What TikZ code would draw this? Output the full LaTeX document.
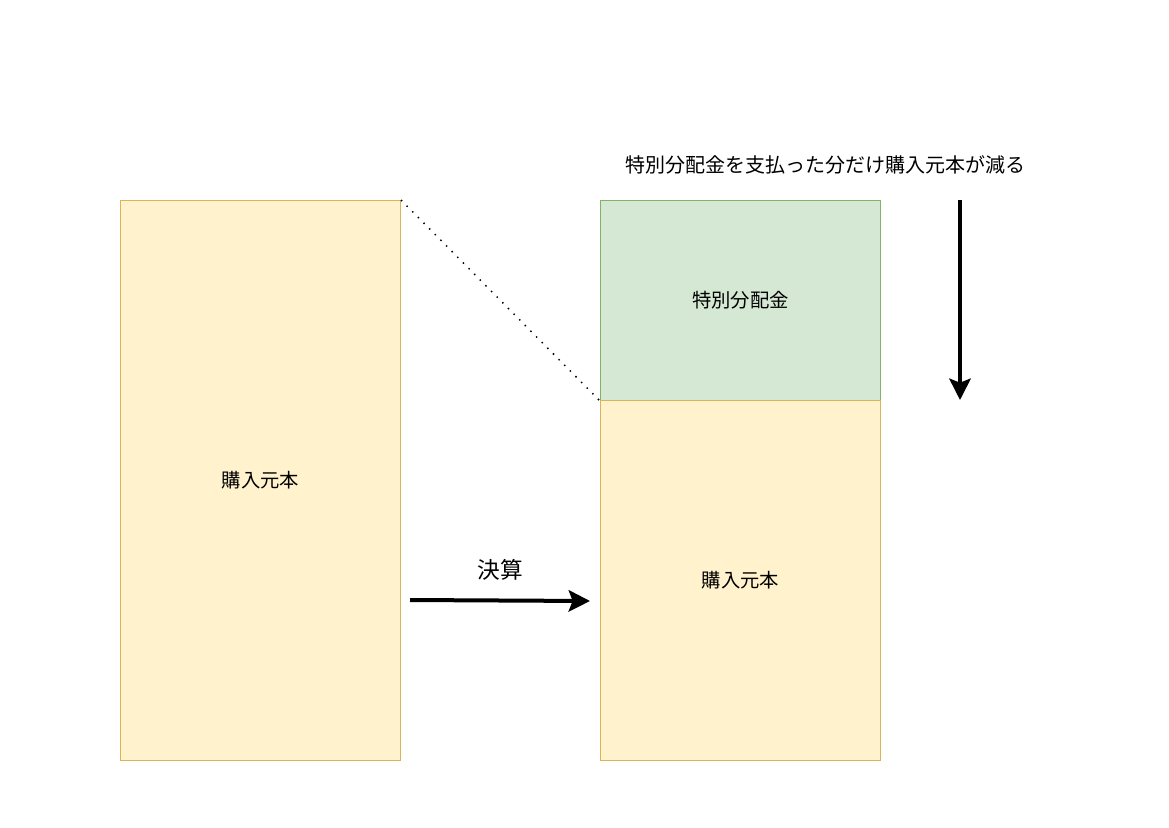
\documentclass[tikz,border=0pt]{standalone}
\usepackage{fontspec}
\setmainfont{Noto Sans CJK JP}
\usetikzlibrary{arrows.meta,positioning}
\definecolor{yelfill}{HTML}{FFF2CC}
\definecolor{yeldraw}{HTML}{D6B656}
\definecolor{grnfill}{HTML}{D5E8D4}
\definecolor{grndraw}{HTML}{82B366}
\tikzset{
  box/.style={draw,line width=0.75pt,inner sep=0pt,minimum width=210pt,anchor=north west,font=\fontsize{14.5pt}{16pt}\selectfont},
  bigarrow/.style={->,line width=3pt,>={Stealth[length=16pt,width=16pt,inset=3pt]}}
}

\begin{document}
\begin{tikzpicture}[x=0.75pt,y=-0.75pt]
  \useasboundingbox (0,0) rectangle (1169,827);
  \node[box,fill=yelfill,draw=yeldraw,minimum height=420pt] (before) at (120,200) {購入元本};
  \node[box,fill=grnfill,draw=grndraw,minimum height=150pt] (dist) at (600,200) {特別分配金};
  \node[box,fill=yelfill,draw=yeldraw,minimum height=270pt] (after) at (600,400) {購入元本};
  \draw[line width=1.1pt,dash pattern=on 1.1pt off 4.9pt] (before.north east) -- (dist.south west);
  % 決算の矢印
  \coordinate (settlestart) at (410,600);
  \coordinate (settleend) at (590,601);
  \draw[bigarrow] (settlestart) -- (settleend);
  \node[font=\fontsize{17pt}{20pt}\selectfont] (settle) at (500,570) {決算};
  % 元本が減る向き
  \coordinate (reducestart) at (960,200);
  \coordinate (reduceend) at (960,400);
  \draw[bigarrow] (reducestart) -- (reduceend);
  \node[font=\fontsize{15pt}{17pt}\selectfont] (note) at (825,165) {特別分配金を支払った分だけ購入元本が減る};
\end{tikzpicture}
\end{document}
